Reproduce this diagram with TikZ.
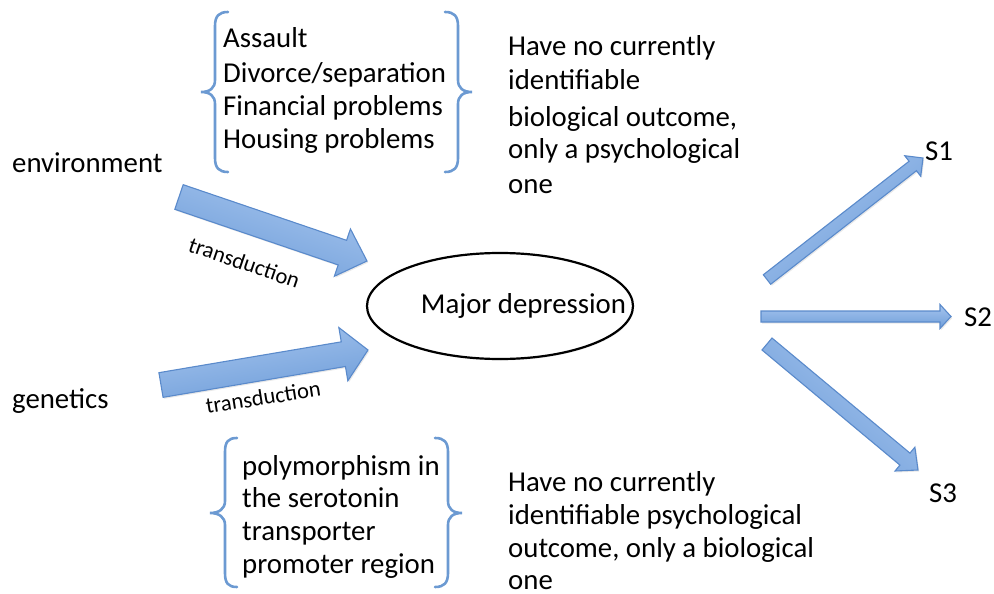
\documentclass[tikz,border=0pt]{standalone}
\usepackage{fontspec}
\setmainfont{Carlito}
\usetikzlibrary{calc,shapes.geometric,shadows}

\definecolor{arrowtop}{HTML}{A6C5EE}
\definecolor{arrowbot}{HTML}{6E9DD9}
\definecolor{arrowedge}{HTML}{5A8ACB}
\definecolor{bracecol}{HTML}{6C9AD2}

% block arrow: tail, tip, shaft half-width, head half-width, head length, shading angle
\newcommand\blockarr[6]{%
  \coordinate (hb) at ($(#2)!#5!(#1)$);
  \path[blockarrow, shading angle=#6]
    ($(#1)!#3!90:(#2)$) -- ($(hb)!#3!-90:(#1)$) -- ($(hb)!#4!-90:(#1)$)
    -- (#2) -- ($(hb)!#4!90:(#1)$) -- ($(hb)!#3!90:(#1)$)
    -- ($(#1)!#3!-90:(#2)$) -- cycle;
}

\tikzset{
  blockarrow/.style={draw=arrowedge, line width=1.1pt, line join=miter,
    top color=arrowtop, bottom color=arrowbot,
    drop shadow={shadow xshift=1.2pt, shadow yshift=-1.5pt, opacity=0.18}},
  bracket/.style={draw=bracecol, line width=2.6pt, line cap=round},
  txt/.style={inner sep=0pt, anchor=base west, font=\fontsize{28.8}{34}\selectfont},
  smalltxt/.style={inner sep=0pt, anchor=base west, font=\fontsize{22.5}{26}\selectfont},
}

\begin{document}
\begin{tikzpicture}[x=1pt,y=-1pt]
\useasboundingbox (0,0) rectangle (994,594);

% central ellipse
\node[draw, ellipse, line width=2.2pt, minimum width=266pt, minimum height=106pt, inner sep=0pt,
  drop shadow={shadow xshift=0.8pt, shadow yshift=-1.5pt, opacity=0.15}, fill=white]
  (md) at (500,306) {};
\node[txt, anchor=base] (mdtext) at (523.5,313) {Major depression};

% left labels
\node[txt] (env) at (12,172) {environment};
\node[txt] (gen) at (12,408) {genetics};

% arrow end points
\coordinate (envT) at (179,197);
\coordinate (envH) at (367,261);
\coordinate (genT) at (161,385);
\coordinate (genH) at (368,350);
\coordinate (s1T) at (767,279.5);
\coordinate (s1H) at (923,158);
\coordinate (s2T) at (761,316.5);
\coordinate (s2H) at (951,316.5);
\coordinate (s3T) at (767,344);
\coordinate (s3H) at (918,470);

\blockarr{envT}{envH}{13pt}{25pt}{26pt}{-19}
\blockarr{genT}{genH}{12.5pt}{27pt}{25pt}{9.6}
\blockarr{s1T}{s1H}{6pt}{13pt}{13pt}{38}
\blockarr{s2T}{s2H}{5.5pt}{12pt}{11pt}{0}
\blockarr{s3T}{s3H}{7.8pt}{15.5pt}{17pt}{-40}

\node[smalltxt, rotate=-19] (tr1) at (187,251) {transduction};
\node[smalltxt, rotate=9] (tr2) at (207,414) {transduction};

% outcome labels
\node[txt] (s1) at (925,160) {S1};
\node[txt] (s2) at (964,326) {S2};
\node[txt] (s3) at (929,502) {S3};

% upper braces
\draw[bracket] (228,12) .. controls (219,12) and (215,16) .. (215,26) -- (215,80)
  .. controls (215,88) and (210,92) .. (201,92) .. controls (210,92) and (215,96) .. (215,104)
  -- (215,158) .. controls (215,168) and (219,172) .. (228,172);
\draw[bracket] (445,12) .. controls (454,12) and (458,16) .. (458,26) -- (458,80)
  .. controls (458,88) and (463,92) .. (472,92) .. controls (463,92) and (458,96) .. (458,104)
  -- (458,158) .. controls (458,168) and (454,172) .. (445,172);

% lower braces
\draw[bracket] (237,438) .. controls (228,438) and (225,442) .. (225,452) -- (225,501)
  .. controls (225,509) and (219,513) .. (210,513) .. controls (219,513) and (225,517) .. (225,525)
  -- (225,573) .. controls (225,583) and (228,587) .. (237,587);
\draw[bracket] (435,438) .. controls (444,438) and (448,442) .. (448,452) -- (448,501)
  .. controls (448,509) and (453,513) .. (462,513) .. controls (453,513) and (448,517) .. (448,525)
  -- (448,573) .. controls (448,583) and (444,587) .. (435,587);

% life events
\node[txt] (ev1) at (223,48) {Assault};
\node[txt] (ev2) at (223,82) {Divorce/separation};
\node[txt] (ev3) at (223,115) {Financial problems};
\node[txt] (ev4) at (223,148) {Housing problems};

% genetic factor
\node[txt] (g1) at (242,475) {polymorphism in};
\node[txt] (g2) at (242,507) {the serotonin};
\node[txt] (g3) at (242,540) {transporter};
\node[txt] (g4) at (242,573) {promoter region};

% notes on the right of the braces
\node[txt] (n1) at (508,56) {Have no currently};
\node[txt] (n2) at (508,89) {identifiable};
\node[txt] (n3) at (508,126) {biological outcome,};
\node[txt] (n4) at (508,158) {only a psychological};
\node[txt] (n5) at (508,193) {one};

\node[txt] (m1) at (508,491) {Have no currently};
\node[txt] (m2) at (508,524) {identifiable psychological};
\node[txt] (m3) at (508,557) {outcome, only a biological};
\node[txt] (m4) at (508,589) {one};
\end{tikzpicture}
\end{document}
